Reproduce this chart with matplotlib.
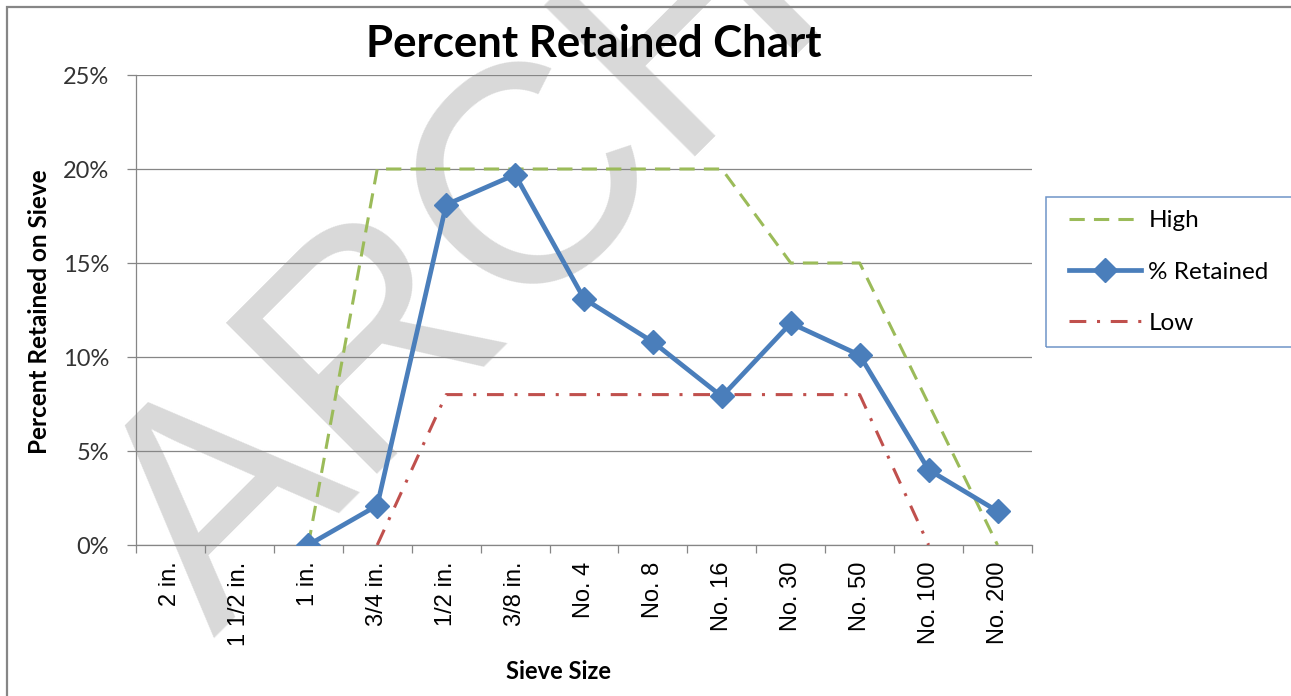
import numpy as np
import matplotlib
matplotlib.use('Agg')
import matplotlib.pyplot as plt
from matplotlib.ticker import PercentFormatter
from matplotlib.patches import Rectangle

# data (percent retained on each sieve)
sieves = ['2 in.', '1 1/2 in.', '1 in.', '3/4 in.', '1/2 in.', '3/8 in.',
          'No. 4', 'No. 8', 'No. 16', 'No. 30', 'No. 50', 'No. 100', 'No. 200']
high = [np.nan, np.nan, 0, 20, 20, 20, 20, 20, 20, 15, 15, 7.5, 0]
retained = [np.nan, np.nan, 0, 2.1, 18.1, 19.7, 13.1, 10.8, 7.9, 11.8, 10.1, 4.0, 1.8]
low = [np.nan, np.nan, np.nan, 0, 8, 8, 8, 8, 8, 8, 8, 0, np.nan]
yticks = [0, 5, 10, 15, 20, 25]

W, H = 1291, 696


def fx(px):
    return px / W


def fy(py):
    return 1 - py / H


fig = plt.figure(figsize=(W / 100, H / 100), dpi=100)

# watermark behind everything
fig.text(fx(213), fy(638), 'ARCHIVED', rotation=45, rotation_mode='anchor',
         ha='left', va='baseline', fontsize=224, color='#d9d9d9',
         family='Liberation Sans', zorder=-1)

# chart area border
fig.add_artist(Rectangle((fx(7), -0.2), 1.5, fy(7) + 0.2, transform=fig.transFigure,
                         fill=False, ec='#868686', lw=1.6))

ax = fig.add_axes([fx(136), fy(545), (1032 - 136) / W, (545 - 75) / H])
ax.set_facecolor('none')

x = np.arange(len(sieves))
ax.plot(x, high, color='#9bbb59', lw=2.2, dashes=(5, 3), label='High', zorder=3)
ax.plot(x, retained, color='#4a7ebb', lw=3.4, marker='D', ms=12.5, mec='#4a7ebb',
        label='% Retained', zorder=4)
ax.plot(x, low, color='#c0504d', lw=2.2, dashes=(5.5, 3.5, 1, 3.5), label='Low', zorder=3)

ax.set_xlim(-0.5, len(sieves) - 0.5)
ax.set_ylim(0, 25)
ax.set_yticks(yticks)
ax.yaxis.set_major_formatter(PercentFormatter(decimals=0))
ax.grid(axis='y', color='#868686', lw=0.9)
ax.set_axisbelow(True)

ax.set_xticks(np.arange(-0.5, len(sieves), 1))
ax.set_xticklabels([])
ax.set_xticks(x, minor=True)
ax.set_xticklabels(sieves, minor=True, rotation=90, fontsize=17,
                   family='Liberation Sans', va='top')
ax.tick_params(axis='x', which='minor', length=0, pad=12)
ax.tick_params(axis='x', which='major', length=6, color='#868686', width=0.9)
ax.tick_params(axis='y', length=6.5, color='#868686', width=0.9, pad=13,
               labelsize=17, labelcolor='#333333')
for lab in ax.get_yticklabels():
    lab.set_family('Lato')

for s in ['top', 'right']:
    ax.spines[s].set_visible(False)
for s in ['left', 'bottom']:
    ax.spines[s].set_color('#868686')
    ax.spines[s].set_linewidth(0.9)

fig.text(fx(594), fy(57), 'Percent Retained Chart', ha='center', va='baseline',
         fontsize=31.5, fontweight='bold', family='Lato')
fig.text(fx(558), fy(679), 'Sieve Size', ha='center', va='baseline',
         fontsize=17, fontweight='bold', family='Lato')
fig.text(fx(40), fy(312), 'Percent Retained on Sieve', rotation=90, ha='center',
         va='center', fontsize=17.5, fontweight='bold', family='Lato')

# legend
fig.add_artist(Rectangle((fx(1046), fy(347)), 1, (347 - 197) / H, transform=fig.transFigure,
                         fill=False, ec='#6f94c8', lw=1.1))
ax.legend(loc='center left', bbox_to_anchor=(fx(1069), fy(272)),
          bbox_transform=fig.transFigure, frameon=False, borderpad=0, borderaxespad=0,
          handlelength=2.97, handletextpad=0.3, labelspacing=1.25,
          prop={'family': 'Lato', 'size': 17.5})

fig.savefig('out.png', dpi=100)
